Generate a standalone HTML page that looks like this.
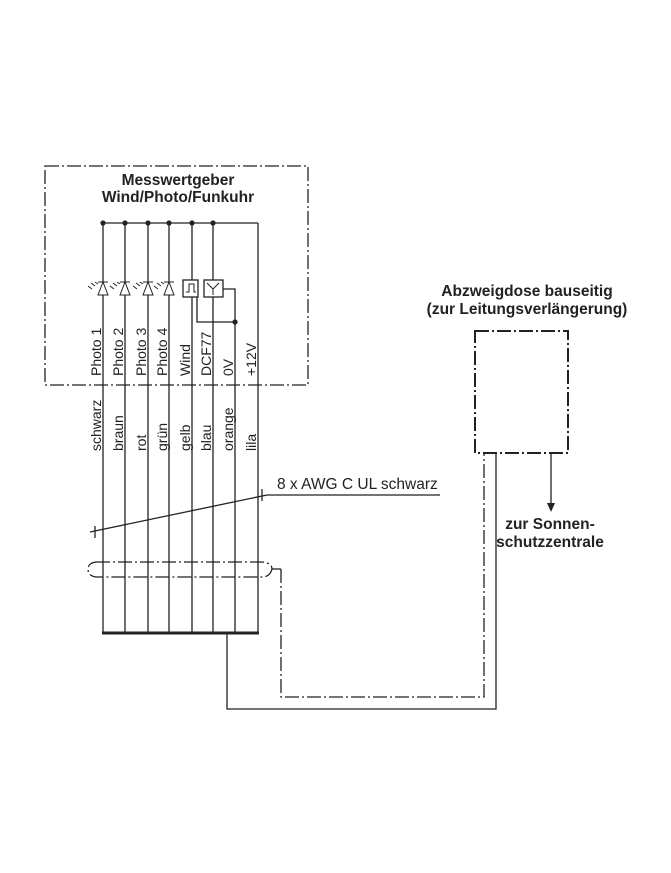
<!DOCTYPE html>
<html><head><meta charset="utf-8"><style>
html,body{margin:0;padding:0;background:#fff;}
svg{display:block;font-family:"Liberation Sans",sans-serif;}
</style></head><body>
<svg width="671" height="873" viewBox="0 0 671 873" xmlns="http://www.w3.org/2000/svg">
<g fill="none" stroke="#222" stroke-width="1.3">
<rect x="45" y="166" width="263" height="219" stroke-dasharray="14,3,2,3"/>
<line x1="103" y1="223" x2="258" y2="223"/>
<line x1="103" y1="223" x2="103" y2="633"/>
<line x1="125" y1="223" x2="125" y2="633"/>
<line x1="148" y1="223" x2="148" y2="633"/>
<line x1="169" y1="223" x2="169" y2="633"/>
<line x1="192" y1="223" x2="192" y2="633"/>
<line x1="213" y1="223" x2="213" y2="633"/>
<line x1="235" y1="322" x2="235" y2="633"/>
<line x1="258" y1="223" x2="258" y2="633"/>
<rect x="183" y="280" width="15" height="17" fill="#fff"/>
<rect x="204" y="280" width="19" height="17" fill="#fff"/>
<path d="M186 292 h3 v-8 h5 v8 h2" stroke-width="1"/>
<path d="M207 283 l6 6 l6 -6 M213 289 v6" stroke-width="1"/>
<path d="M197 297 v25 h38"/>
<path d="M223 289 h12 v33"/>
<line x1="102" y1="633" x2="259" y2="633" stroke-width="3"/>
<path d="M227 633 V709 H496 V453"/>
<path d="M281 569 V697 H484 V453" stroke-dasharray="14,3,2,3"/>
<path d="M96 562 H262 Q272 563 272 569 Q270 577 262 577 H96 Q88 576 88 569 Q88 563 96 562" stroke-dasharray="14,3,2,3"/>
<path d="M272 569 H281"/>
<rect x="475" y="331" width="93" height="122" stroke-width="2" stroke-dasharray="14,3,2,3"/>
<line x1="551" y1="453" x2="551" y2="505"/>
<path d="M90 532 L267 495 H440"/>
<line x1="95" y1="526" x2="95" y2="538"/>
<line x1="262" y1="489" x2="262" y2="501"/>
</g>
<polygon points="547,503 555,503 551,512" fill="#222"/>
<g fill="#222">
<circle cx="103" cy="223" r="2.6"/><circle cx="125" cy="223" r="2.6"/><circle cx="148" cy="223" r="2.6"/>
<circle cx="169" cy="223" r="2.6"/><circle cx="192" cy="223" r="2.6"/><circle cx="213" cy="223" r="2.6"/>
<circle cx="235" cy="322" r="2.6"/>
</g>
<g stroke="#222" stroke-width="1" fill="#fff">
<g transform="translate(103,0)"><path d="M-5 282 h10 M0 282 l-5 13 h10 z"/><path d="M-15 286 l4 3 M-12 283 l4 3 M-8 282 l3 2" fill="none"/></g>
<g transform="translate(125,0)"><path d="M-5 282 h10 M0 282 l-5 13 h10 z"/><path d="M-15 286 l4 3 M-12 283 l4 3 M-8 282 l3 2" fill="none"/></g>
<g transform="translate(148,0)"><path d="M-5 282 h10 M0 282 l-5 13 h10 z"/><path d="M-15 286 l4 3 M-12 283 l4 3 M-8 282 l3 2" fill="none"/></g>
<g transform="translate(169,0)"><path d="M-5 282 h10 M0 282 l-5 13 h10 z"/><path d="M-15 286 l4 3 M-12 283 l4 3 M-8 282 l3 2" fill="none"/></g>
</g>
<g font-size="14" fill="#222">
<text transform="translate(101,376) rotate(-90)">Photo 1</text>
<text transform="translate(123,376) rotate(-90)">Photo 2</text>
<text transform="translate(146,376) rotate(-90)">Photo 3</text>
<text transform="translate(167,376) rotate(-90)">Photo 4</text>
<text transform="translate(190,376) rotate(-90)">Wind</text>
<text transform="translate(211,376) rotate(-90)">DCF77</text>
<text transform="translate(233,376) rotate(-90)">0V</text>
<text transform="translate(256,376) rotate(-90)">+12V</text>
<text transform="translate(101,451) rotate(-90)">schwarz</text>
<text transform="translate(123,451) rotate(-90)">braun</text>
<text transform="translate(146,451) rotate(-90)">rot</text>
<text transform="translate(167,451) rotate(-90)">grün</text>
<text transform="translate(190,451) rotate(-90)">gelb</text>
<text transform="translate(211,451) rotate(-90)">blau</text>
<text transform="translate(233,451) rotate(-90)">orange</text>
<text transform="translate(256,451) rotate(-90)">lila</text>
<text x="277" y="489" font-size="15.5">8 x AWG C UL schwarz</text>
</g>
<g font-size="15.5" font-weight="bold" fill="#222" text-anchor="middle">
<text x="178" y="185">Messwertgeber</text>
<text x="178" y="202">Wind/Photo/Funkuhr</text>
<text x="527" y="296">Abzweigdose bauseitig</text>
<text x="527" y="314">(zur Leitungsverlängerung)</text>
<text x="550" y="529">zur Sonnen-</text>
<text x="550" y="547">schutzzentrale</text>
</g>
</svg>
</body></html>
